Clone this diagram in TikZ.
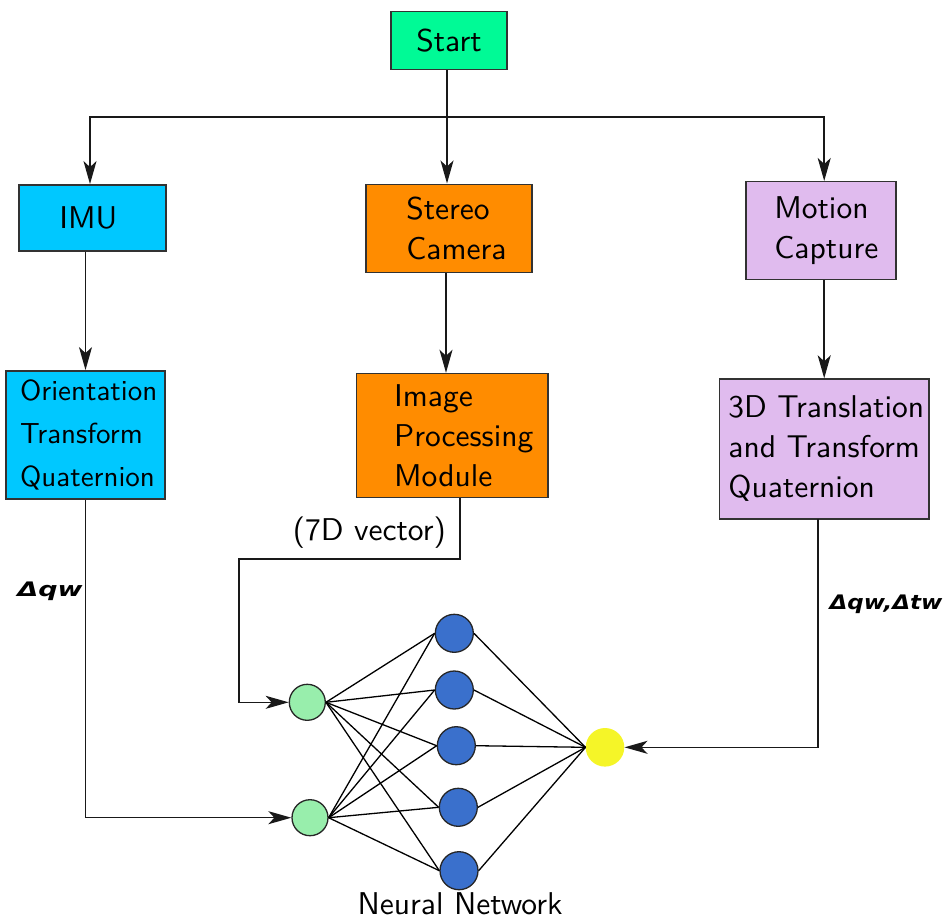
\documentclass[tikz,border=0pt]{standalone}
\usepackage{fontspec}
\usepackage{graphicx}
\usetikzlibrary{arrows.meta}
% design-size 10 sans, scaled up, for all box texts
\setsansfont{lmsans10-regular.otf}
\newfontfamily\deltafont{DejaVu Sans}

\definecolor{startgreen}{RGB}{0,250,150}
\definecolor{imublue}{RGB}{0,200,255}
\definecolor{camorange}{RGB}{255,140,0}
\definecolor{mocaplilac}{RGB}{224,187,238}
\definecolor{inputgreen}{RGB}{152,238,172}
\definecolor{hiddenblue}{RGB}{58,112,204}
\definecolor{outputyellow}{RGB}{245,245,40}
\definecolor{framegray}{RGB}{50,50,50}

\tikzset{
  box/.style={draw=framegray, line width=1.4pt, inner sep=0pt},
  boxtext/.style={font=\sffamily\fontsize{31.5}{40}\selectfont, align=left, inner sep=0pt},
  flow/.style={line width=1.5pt, draw=black!90,
    -{Stealth[length=23pt,width=13pt,inset=6pt]}},
  link/.style={line width=1.3pt, draw=black},
  neuron/.style={circle, draw=black!85, line width=1.3pt, minimum size=36pt, inner sep=0pt},
  deltalabel/.style={font=\deltafont\bfseries\itshape\fontsize{20}{20}\selectfont, inner sep=0pt}
}

\begin{document}
\begin{tikzpicture}[x=1pt,y=-1pt]
\useasboundingbox (0,0) rectangle (949,923);

% --- flowchart boxes ---
\node[box, fill=startgreen, minimum width=116, minimum height=58] (start) at (449,40.5) {};
\node[boxtext] (start-text) at (start.center) {Start};

\node[box, fill=imublue, minimum width=147, minimum height=66] (imu) at (92.3,217.8) {};
\node[boxtext, anchor=west] (imu-text) at ([xshift=41]imu.west) {IMU};

\node[box, fill=camorange, minimum width=166, minimum height=88] (stereo) at (448.8,228.2) {};
\node[boxtext, anchor=west] (stereo-text) at ([xshift=41]stereo.west) {Stereo\\Camera};

\node[box, fill=mocaplilac, minimum width=150, minimum height=97.6] (mocap) at (820.8,230.5) {};
\node[boxtext, anchor=west] (mocap-text) at ([xshift=29]mocap.west) {Motion\\Capture};

\node[box, fill=imublue, minimum width=159, minimum height=128] (orient) at (85.5,434.8) {};
\node[boxtext, font=\sffamily\fontsize{29}{43}\selectfont, anchor=west] (orient-text)
  at ([xshift=14.5]orient.west) {Orientation\\Transform\\Quaternion};

\node[box, fill=camorange, minimum width=191.3, minimum height=124] (image) at (452.3,435.5) {};
\node[boxtext, anchor=west] (image-text) at ([xshift=38]image.west) {Image\\Processing\\Module};

\node[box, fill=mocaplilac, minimum width=209.7, minimum height=140] (trans) at (824.2,449) {};
\node[boxtext, anchor=west] (trans-text) at ([xshift=9.5]trans.west) {3D Translation\\and Transform\\Quaternion};

% --- neural network ---
\node[neuron, fill=inputgreen] (in1) at (307.3,702.3) {};
\node[neuron, fill=inputgreen] (in2) at (310,817.7) {};
\node[neuron, fill=hiddenblue, minimum size=38pt] (hid1) at (454.3,633.3) {};
\node[neuron, fill=hiddenblue, minimum size=38pt] (hid2) at (454.3,690) {};
\node[neuron, fill=hiddenblue, minimum size=38pt] (hid3) at (456.3,745.7) {};
\node[neuron, fill=hiddenblue, minimum size=38pt] (hid4) at (458.3,807.3) {};
\node[neuron, fill=hiddenblue, minimum size=38pt] (hid5) at (459,870.7) {};
\node[circle, fill=outputyellow, minimum size=38.6pt, inner sep=0pt] (out) at (605,747.3) {};
\node[boxtext] (nn-text) at (460,904) {Neural Network};

\foreach \i in {1,2}
  \foreach \j in {1,...,5}
    \draw[link] (in\i.east) -- (hid\j.west);
\foreach \j in {1,...,5}
  \draw[link] (hid\j.east) -- (out.west);

% --- connectors ---
\coordinate (fork) at (447,117);
\draw[line width=1.5pt, draw=black!90] (start.south -| fork) -- (fork);
\draw[flow] (fork) -| (imu.north -| 90,0);
\draw[flow] (fork) -- (fork |- stereo.north);
\draw[flow] (fork) -| (mocap.north -| trans.north);

\draw[flow] (orient.north |- imu.south) -- (orient.north);
\draw[flow] (stereo.south -| 446,0) -- (image.north -| 446,0);
\draw[flow] (trans.north |- mocap.south) -- (trans.north);

\draw[flow] (orient.south) |- (in2.west);

\coordinate (imgout) at (460,497.5);
\coordinate (bend) at (239,559);
\draw[flow] (imgout) |- (bend) |- (in1.west);
\node[boxtext, anchor=east] (vec-text) at (446,533) {(7D vector)};

\coordinate (transout) at (818,519);
\draw[flow] (transout) |- (out.east);

% --- edge labels ---
\node[deltalabel] (dq) at (50,591) {\scalebox{1.35}[1]{Δqw}};
\node[deltalabel] (dqt) at (886,604) {\scalebox{1.15}[1]{Δqw,Δtw}};
\end{tikzpicture}
\end{document}
